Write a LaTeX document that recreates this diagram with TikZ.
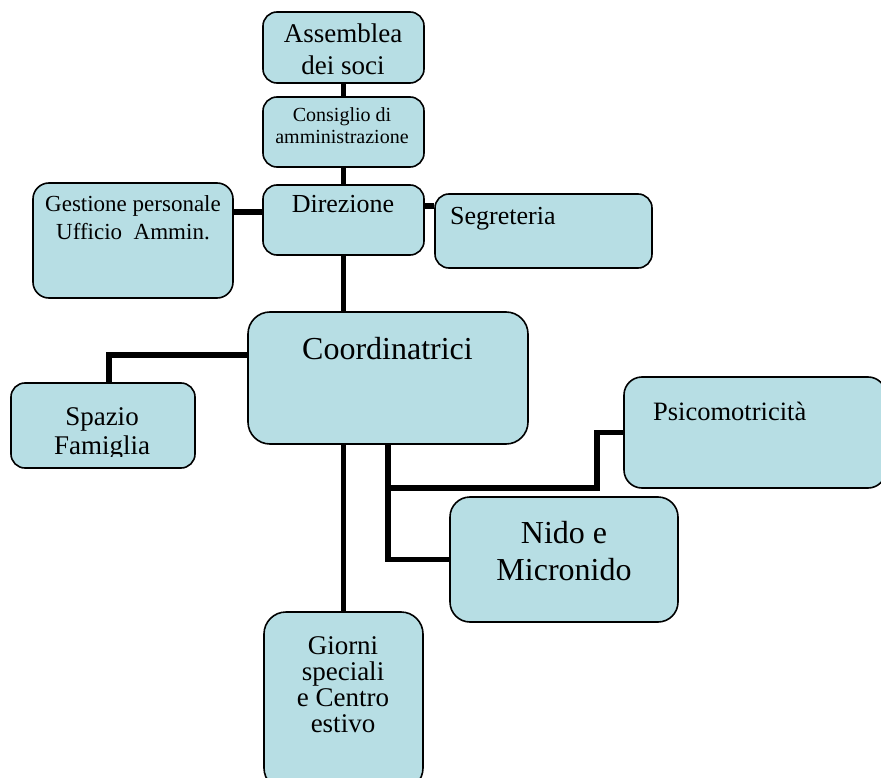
\documentclass[tikz,border=0pt]{standalone}
\usepackage{fontspec}
\setmainfont{Liberation Serif}
\usetikzlibrary{positioning, calc}
\definecolor{boxblue}{RGB}{183,222,228}
\newcommand{\fsz}[2]{\fontsize{#1}{#2}\selectfont}
\tikzstyle{orgBox}=[draw=black, fill=boxblue, line width=1.6pt,
  rounded corners=14pt, inner sep=0pt]
\tikzstyle{orgLink}=[line width=5.5pt, draw=black]
\tikzstyle{orgText}=[inner sep=0pt, align=center, anchor=base]
\tikzstyle{orgTextL}=[inner sep=0pt, align=left, anchor=base west]

\begin{document}
\begin{tikzpicture}[x=1pt, y=-1pt]
  \clip (0,0) rectangle (881,778);

  \coordinate (asmC) at (343.5,47.5);
  \coordinate (cdaC) at (343.5,132);
  \coordinate (dirC) at (343.5,220);
  \coordinate (gestC) at (133,240.5);
  \coordinate (segC) at (543.5,231);
  \coordinate (coordC) at (388,378);
  \coordinate (spazioC) at (103,425.5);
  \coordinate (psicoC) at (755,432.5);
  \coordinate (nidoC) at (564,559.5);
  \coordinate (giorniC) at (343.5,701);
  \coordinate (elbow) at (597,488);

  \node[orgBox, minimum width=161pt, minimum height=71pt] (asm) at (asmC) {};
  \node[orgBox, minimum width=161pt, minimum height=70pt] (cda) at (cdaC) {};
  \node[orgBox, minimum width=161pt, minimum height=70pt] (dir) at (dirC) {};
  \node[orgBox, minimum width=200pt, minimum height=115pt, rounded corners=16pt] (gest) at (gestC) {};
  \node[orgBox, minimum width=217pt, minimum height=74pt] (seg) at (segC) {};
  \node[orgBox, minimum width=280pt, minimum height=132pt, rounded corners=22pt] (coord) at (coordC) {};
  \node[orgBox, minimum width=184pt, minimum height=85pt] (spazio) at (spazioC) {};
  \node[orgBox, minimum width=262pt, minimum height=111pt, rounded corners=18pt] (psico) at (psicoC) {};
  \node[orgBox, minimum width=228pt, minimum height=125pt, rounded corners=20pt] (nido) at (nidoC) {};
  \node[orgBox, minimum width=159pt, minimum height=178pt, rounded corners=22pt] (giorni) at (giorniC) {};

  \draw[orgLink] (asm.south) -- (cda.north);
  \draw[orgLink] (cda.south) -- (dir.north);
  \draw[orgLink] ([yshift=8pt]dir.west) -- ([yshift=8pt]dir.west -| gest.east);
  \draw[orgLink] ([yshift=14pt]dir.east) -- ([yshift=14pt]dir.east -| seg.west);
  \draw[orgLink] (dir.south) -- (dir.south |- coord.north);
  \draw[orgLink] ([yshift=23pt]coord.west) -| ([xshift=6pt]spazio.north);
  \draw[orgLink] (coord.south -| giorni.north) -- (giorni.north);
  \draw[orgLink] (coord.south) |- (nido.west);
  \draw[orgLink] (coord.south) |- (elbow) |- (psico.west);

  % base anchor sits on the last line
  \node[orgText, font=\fsz{27}{32}] (asmText) at (343,75) {Assemblea\\dei soci};
  \node[orgText, font=\fsz{20}{21.6}] (cdaText) at (342,143.5) {Consiglio di\\amministrazione};
  \node[orgText, font=\fsz{26}{30}] (dirText) at (343,213) {Direzione};
  \node[orgText, font=\fsz{23}{28.3}] (gestText) at (133,240) {Gestione personale\\Ufficio\ \ Ammin.};
  \node[orgTextL, font=\fsz{26}{30}] (segText) at (450,225) {Segreteria};
  \node[orgText, font=\fsz{32}{36}] (coordText) at (387.5,359) {Coordinatrici};
  \begin{scope}
    \clip (11,383) rectangle (195,456);
    \node[orgText, font=\fsz{27}{29}] (spazioText) at (102,454) {Spazio\\Famiglia};
  \end{scope}
  \node[orgTextL, font=\fsz{26.5}{30}] (psicoText) at (653,420) {Psicomotricità};
  \node[orgText, font=\fsz{32}{37}] (nidoText) at (564,580) {Nido e\\Micronido};
  \node[orgText, font=\fsz{27}{25.7}] (giorniText) at (343,732) {Giorni\\speciali\\e Centro\\estivo};
\end{tikzpicture}
\end{document}
